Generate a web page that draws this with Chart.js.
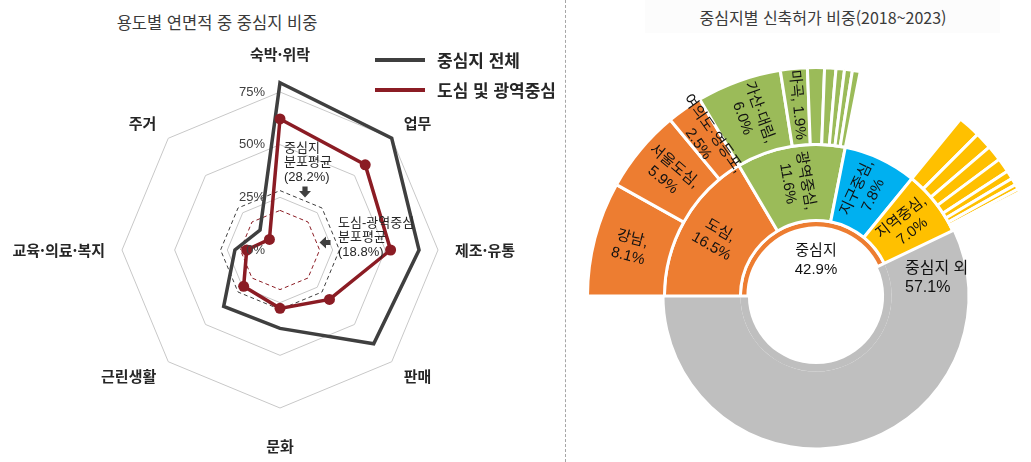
<!DOCTYPE html>
<html lang="ko">
<head>
<meta charset="utf-8">
<script src="https://cdn.jsdelivr.net/npm/chart.js@4.4.1/dist/chart.umd.min.js"></script>
<style>
  html, body { margin: 0; padding: 0; background: #fff; }
  body { position: relative; width: 1031px; height: 462px; overflow: hidden;
         font-family: "Noto Sans CJK KR", "Noto Sans", sans-serif; color: #3a3a3a; }
  .title { position: absolute; white-space: nowrap; font-size: 16.5px; line-height: 20px; transform: translateX(-50%); }
  #leftTitle { left: 217px; top: 12px; }
  #rightTitle { left: 823px; top: 7px; font-size: 16px; }
  #rightTitleBg { position: absolute; left: 645px; top: 0; width: 355px; height: 33px; background: #fcfcfc; }
  .sep { position: absolute; left: 565px; top: 0; height: 462px; border-left: 1px dashed #a6a6a6; }
  #radarCanvas { position: absolute; left: 0; top: 0; }
  #sunCanvas { position: absolute; left: 586px; top: 66px; }
  .legend-item { position: absolute; left: 375px; display: flex; align-items: center; white-space: nowrap;
                 font-size: 17px; font-weight: 700; line-height: 20px; color: #262626; }
  .legend-item i { display: inline-block; width: 50px; height: 4px; margin-right: 12px; }
</style>
</head>
<body>
<div class="sep"></div>
<div class="title" id="leftTitle">용도별 연면적 중 중심지 비중</div>
<div id="rightTitleBg"></div>
<div class="title" id="rightTitle">중심지별 신축허가 비중(2018~2023)</div>
<canvas id="radarCanvas" width="560" height="462"></canvas>
<canvas id="sunCanvas" width="460" height="460"></canvas>
<div id="legend"></div>

<script>
// ---- 왼쪽: 용도별 연면적 중 중심지 비중 (%) ----
const useLabels = ["숙박·위락", "업무", "제조·유통", "판매", "문화", "근린생활", "교육·의료·복지", "주거"];
const allCenterShare = [79.4, 75.0, 66.0, 62.9, 37.2, 37.8, 21.4, 13.4];
const coreCenterShare = [62.2, 57.2, 52.5, 33.2, 27.7, 24.4, 15.8, 7.1];
const radarTicks = [0, 25, 50, 75];
const seriesNames = ["중심지 전체", "도심 및 광역중심"];
const seriesColors = ["#3f3f3f", "#8b1c24"];
const averageValues = [28.2, 18.8];
const averageNames = [["중심지", "분포평균"], ["도심-광역중심", "분포평균"]];

// ---- 오른쪽: 중심지별 신축허가 비중 (%) ----
const innerNames = ["중심지 외", "중심지"];
const innerValues = [57.1, 42.9];
const tierNames = ["도심", "광역중심", "지구중심", "지역중심"];
const tierValues = [16.5, 11.6, 7.8, 7.0];
const dosimNames = ["강남", "서울도심", "여의도·영등포"];
const dosimValues = [8.1, 5.9, 2.5];
const gwangNames = ["가산·대림", "마곡"];
const gwangValues = [6.0, 1.9];
const gwangRest = [1.2, 0.8, 0.6, 0.55, 0.55];
const jiyeokRest = [1.6, 1.2, 1.1, 1.0, 0.6, 0.5, 0.35, 0.25, 0.15, 0.12, 0.08, 0.05];

const ORANGE = "#ed7d31", GREEN = "#9bbb59", BLUE = "#00b0f0", YELLOW = "#ffc000", GRAY = "#bfbfbf";
const CLEAR = "rgba(0,0,0,0)";
const NUM_FONT = "'Liberation Sans', 'Noto Sans CJK KR', sans-serif";
const KR_FONT = "'Noto Sans CJK KR', 'Noto Sans', sans-serif";

// legend (html)
const legendBox = document.getElementById("legend");
seriesNames.forEach((name, i) => {
    const item = document.createElement("div");
    item.className = "legend-item";
    item.style.top = (50 + i * 30) + "px";
    item.innerHTML = `<i style="background:${seriesColors[i]}"></i>${name}`;
    legendBox.appendChild(item);
});

// small block arrow
function blockArrow(ctx, x, y, dir) {
    ctx.save();
    ctx.translate(x, y);
    if (dir === "left") ctx.rotate(Math.PI / 2);
    ctx.fillStyle = "#404040";
    ctx.beginPath();
    ctx.moveTo(-2.6, -5.5); ctx.lineTo(2.6, -5.5); ctx.lineTo(2.6, -1);
    ctx.lineTo(6, -1); ctx.lineTo(0, 5.5); ctx.lineTo(-6, -1); ctx.lineTo(-2.6, -1);
    ctx.closePath();
    ctx.fill();
    ctx.restore();
}

const radarExtras = {
    id: "radarExtras",
    beforeDatasetsDraw(chart) {
        const r = chart.scales.r;
        const ctx = chart.ctx;
        // dashed average octagons
        averageValues.forEach((v, k) => {
            ctx.save();
            ctx.beginPath();
            useLabels.forEach((_, i) => {
                const p = r.getPointPositionForValue(i, v);
                if (i === 0) ctx.moveTo(p.x, p.y); else ctx.lineTo(p.x, p.y);
            });
            ctx.closePath();
            ctx.setLineDash([4, 3]);
            ctx.lineWidth = 1;
            ctx.strokeStyle = seriesColors[k];
            ctx.stroke();
            ctx.restore();
        });
    },
    afterDraw(chart) {
        const r = chart.scales.r;
        const ctx = chart.ctx;
        ctx.save();
        // tick labels
        ctx.font = "13px " + NUM_FONT;
        ctx.fillStyle = "#404040";
        ctx.textAlign = "right";
        ctx.textBaseline = "middle";
        radarTicks.forEach(v => {
            ctx.fillText(v + "%", r.xCenter - 15, r.yCenter - r.getDistanceFromCenterForValue(v));
        });

        // category labels around the octagon
        ctx.font = "bold 15px " + KR_FONT;
        ctx.fillStyle = "#262626";
        ctx.textAlign = "center";
        useLabels.forEach((label, i) => {
            const a = r.getIndexAngle(i);
            const p = r.getPointPosition(i, 175);
            const sx = Math.sin(a), cy = -Math.cos(a);
            const w = ctx.measureText(label).width;
            let x = p.x, y = p.y;
            if (Math.abs(sx) > 0.1) x += Math.sign(sx) * w / 2;
            if (Math.abs(sx) < 0.1) y += Math.sign(cy) * 21;
            else if (Math.abs(cy) > 0.1) y += Math.sign(cy) * 3;
            ctx.fillText(label, x, y);
        });

        // average notes
        ctx.font = "13px " + NUM_FONT;
        ctx.fillStyle = "#262626";
        ctx.textAlign = "left";
        const notePos = [[r.xCenter + 4, r.yCenter - 102], [r.xCenter + 58, r.yCenter - 27]];
        averageNames.forEach((lines, k) => {
            const all = [...lines, `(${averageValues[k].toFixed(1)}%)`];
            all.forEach((t, j) => ctx.fillText(t, notePos[k][0], notePos[k][1] + j * 14.5));
        });
        blockArrow(ctx, r.xCenter + 25, r.yCenter - 58, "down");
        blockArrow(ctx, r.xCenter + 45, r.yCenter - 7.5, "left");
        ctx.restore();
    }
};

new Chart(document.getElementById("radarCanvas"), {
    type: "radar",
    data: {
        labels: useLabels,
        datasets: [
            {
                label: seriesNames[0],
                data: allCenterShare,
                borderColor: seriesColors[0],
                borderWidth: 3.5,
                pointRadius: 0,
                fill: false,
                clip: false,
                order: 2
            },
            {
                label: seriesNames[1],
                data: coreCenterShare,
                borderColor: seriesColors[1],
                backgroundColor: seriesColors[1],
                borderWidth: 3.5,
                pointRadius: 5.5,
                pointBorderWidth: 0,
                pointBackgroundColor: seriesColors[1],
                fill: false,
                clip: false,
                order: 1
            }
        ]
    },
    options: {
        responsive: false,
        animation: false,
        layout: { padding: { left: 122, right: 122, top: 92, bottom: 54 } },
        plugins: { legend: { display: false }, tooltip: { enabled: false } },
        scales: {
            r: {
                min: 0,
                max: 75,
                ticks: { stepSize: 25, display: false },
                grid: { color: "#c8c8c8", lineWidth: 1 },
                angleLines: { display: false },
                pointLabels: { display: false }
            }
        }
    },
    plugins: [radarExtras]
});

// ---- sunburst rings (dataset 0 = outermost) ----
function pct(v) { return v.toFixed(1) + "%"; }
function twoLine(name, v) { return v < 2 ? [`${name}, ${pct(v)}`] : [name + ",", pct(v)]; }

const ring3Values = [innerValues[0], ...dosimValues, ...gwangValues, ...gwangRest, tierValues[2], ...jiyeokRest];
const ring3Colors = [CLEAR, ...dosimValues.map(() => ORANGE), ...gwangValues.map(() => GREEN),
    ...gwangRest.map(() => GREEN), CLEAR, ...jiyeokRest.map(() => YELLOW)];
const ring3Labels = [null, ...dosimNames.map((n, i) => twoLine(n, dosimValues[i])),
    ...gwangNames.map((n, i) => twoLine(n, gwangValues[i]))];

const ring2Values = [innerValues[0], ...tierValues];
const ring2Colors = [GRAY, ORANGE, GREEN, BLUE, YELLOW];
const ring2Labels = [null, ...tierNames.map((n, i) => twoLine(n, tierValues[i]))];

const ring1Values = innerValues;
const ring1Colors = [GRAY, ORANGE];

const coreShare = innerValues[1] / (innerValues[0] + innerValues[1]);

const sunLabels = {
    id: "sunLabels",
    afterDatasetsDraw(chart) {
        const ctx = chart.ctx;
        ctx.save();
        ctx.fillStyle = "#111";
        ctx.textAlign = "center";
        ctx.textBaseline = "middle";
        ctx.font = "15px " + NUM_FONT;
        chart.data.datasets.forEach((ds, di) => {
            if (!ds.segmentLabels) return;
            const meta = chart.getDatasetMeta(di);
            meta.data.forEach((arc, i) => {
                const lines = ds.segmentLabels[i];
                if (!lines) return;
                const p = arc.getProps(["x", "y", "startAngle", "endAngle", "innerRadius", "outerRadius"], true);
                const mid = (p.startAngle + p.endAngle) / 2;
                const rr = (p.innerRadius + p.outerRadius) / 2 + 2;
                let rot = Math.atan2(Math.sin(mid - Math.PI), Math.cos(mid - Math.PI));
                if (rot > Math.PI / 2) rot -= Math.PI;
                if (rot < -Math.PI / 2) rot += Math.PI;
                ctx.save();
                ctx.translate(p.x + rr * Math.cos(mid), p.y + rr * Math.sin(mid));
                ctx.rotate(rot);
                lines.forEach((t, j) => ctx.fillText(t, 0, (j - (lines.length - 1) / 2) * 18));
                ctx.restore();
            });
        });
        // center and outside-share labels
        const c = chart.getDatasetMeta(2).data[0].getProps(["x", "y"], true);
        ctx.font = "15px " + NUM_FONT;
        ctx.fillText(innerNames[1], c.x, c.y - 45);
        ctx.fillText(pct(innerValues[1]), c.x, c.y - 26);
        ctx.textAlign = "left";
        ctx.font = "16px " + NUM_FONT;
        ctx.fillText(innerNames[0], c.x + 89, c.y - 27);
        ctx.fillText(pct(innerValues[0]), c.x + 89, c.y - 8);
        ctx.restore();
    }
};

new Chart(document.getElementById("sunCanvas"), {
    type: "doughnut",
    data: {
        datasets: [
            {
                data: ring3Values,
                backgroundColor: ring3Colors,
                borderColor: "#fff",
                borderWidth: ring3Colors.map(c => (c === CLEAR ? 0 : 3)),
                weight: 77,
                segmentLabels: ring3Labels
            },
            {
                data: ring2Values,
                backgroundColor: ring2Colors,
                borderColor: "#fff",
                borderWidth: [0, 3, 3, 3, 3],
                weight: 76,
                segmentLabels: ring2Labels
            },
            {
                data: ring1Values,
                backgroundColor: ring1Colors,
                borderColor: "#fff",
                borderWidth: [0, 3],
                weight: 7.5
            }
        ]
    },
    options: {
        responsive: false,
        animation: false,
        cutout: "29.8%",
        rotation: 270 + coreShare * 360,
        plugins: { legend: { display: false }, tooltip: { enabled: false } }
    },
    plugins: [sunLabels]
});
</script>
</body>
</html>
